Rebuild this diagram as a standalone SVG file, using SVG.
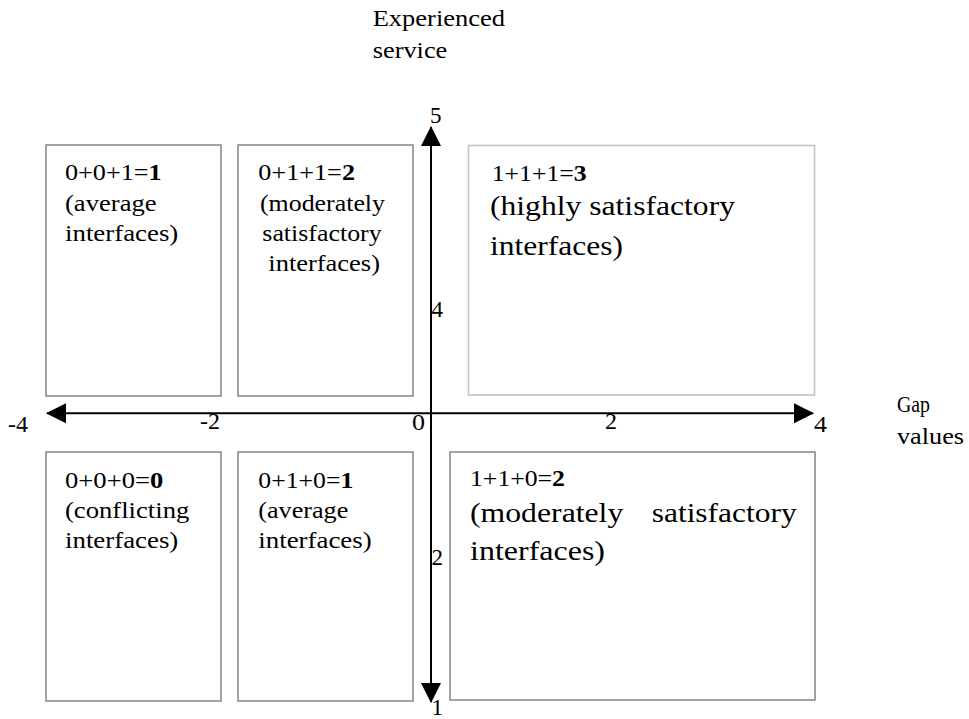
<svg xmlns="http://www.w3.org/2000/svg" width="969" height="719" viewBox="0 0 969 719">
<style>
text { font-family: 'Liberation Serif', 'Times New Roman', Times, 'DejaVu Serif', serif; fill: #000; }
.t { font-size: 23px; }
.big { font-size: 28px; }
.ax { font-size: 23px; }
.lbl { font-size: 24px; }
.box { fill: #fff; stroke: #8c8c8c; stroke-width: 1.6; }
.light { stroke: #c4c4c4; }
.axis { stroke: #000; stroke-width: 2; fill: none; }
.b { font-weight: bold; }
</style>
<defs>
<marker id="arr" markerUnits="userSpaceOnUse" markerWidth="20" markerHeight="20" refX="19" refY="10" orient="auto-start-reverse" viewBox="0 0 20 20">
<path d="M0,0 L20,10 L0,20 z" fill="#000"/>
</marker>
</defs>
<rect width="969" height="719" fill="#fff"/>

<g font-family="Liberation Serif, Times New Roman, serif">
<g id="box-001">
<rect class="box" x="46" y="145" width="175" height="251"/>
<text class="t" x="65" y="180" textLength="96.7" lengthAdjust="spacingAndGlyphs">0+0+1=<tspan class="b">1</tspan></text>
<text class="t" x="65" y="210.5" textLength="91.7" lengthAdjust="spacingAndGlyphs">(average</text>
<text class="t" x="65" y="240.5" textLength="113.3" lengthAdjust="spacingAndGlyphs">interfaces)</text>
</g>

<g id="box-011">
<rect class="box" x="238" y="145" width="175" height="251"/>
<text class="t" x="258.3" y="180" textLength="96.7" lengthAdjust="spacingAndGlyphs">0+1+1=<tspan class="b">2</tspan></text>
<text class="t" x="260" y="210.5" textLength="125" lengthAdjust="spacingAndGlyphs">(moderately</text>
<text class="t" x="262.3" y="240.5" textLength="119.4" lengthAdjust="spacingAndGlyphs">satisfactory</text>
<text class="t" x="268.3" y="271" textLength="111.7" lengthAdjust="spacingAndGlyphs">interfaces)</text>
</g>

<g id="box-111">
<rect class="box light" x="468.5" y="145.5" width="346" height="249.5"/>
<text class="t" x="491.7" y="181" textLength="95" lengthAdjust="spacingAndGlyphs">1+1+1=<tspan class="b">3</tspan></text>
<text class="big" x="490" y="215" textLength="245" lengthAdjust="spacingAndGlyphs">(highly satisfactory</text>
<text class="big" x="490" y="255" textLength="133" lengthAdjust="spacingAndGlyphs">interfaces)</text>
</g>

<g id="box-000">
<rect class="box" x="46" y="452" width="175" height="249"/>
<text class="t" x="65" y="488.3" textLength="98.3" lengthAdjust="spacingAndGlyphs">0+0+0=<tspan class="b">0</tspan></text>
<text class="t" x="65" y="518.3" textLength="124.3" lengthAdjust="spacingAndGlyphs">(conflicting</text>
<text class="t" x="65" y="548.3" textLength="113.3" lengthAdjust="spacingAndGlyphs">interfaces)</text>
</g>

<g id="box-010">
<rect class="box" x="238" y="452" width="175" height="249"/>
<text class="t" x="258.3" y="488.3" textLength="95" lengthAdjust="spacingAndGlyphs">0+1+0=<tspan class="b">1</tspan></text>
<text class="t" x="258.3" y="518.3" textLength="90" lengthAdjust="spacingAndGlyphs">(average</text>
<text class="t" x="258.3" y="548.3" textLength="113.4" lengthAdjust="spacingAndGlyphs">interfaces)</text>
</g>

<g id="box-110">
<rect class="box" x="450" y="452" width="365" height="248"/>
<text class="t" x="470" y="485.7" textLength="95" lengthAdjust="spacingAndGlyphs">1+1+0=<tspan class="b">2</tspan></text>
<text class="big" x="470" y="521.7" textLength="153.3" lengthAdjust="spacingAndGlyphs">(moderately</text>
<text class="big" x="651.7" y="521.7" textLength="145" lengthAdjust="spacingAndGlyphs">satisfactory</text>
<text class="big" x="470" y="560" textLength="135" lengthAdjust="spacingAndGlyphs">interfaces)</text>
</g>

<g id="connectors">
<line class="axis" x1="47" y1="413.3" x2="813" y2="413.3" marker-start="url(#arr)" marker-end="url(#arr)"/>
<line class="axis" x1="431" y1="127" x2="431" y2="702" marker-start="url(#arr)" marker-end="url(#arr)"/>
</g>

<g id="axis-labels">
<text class="lbl" x="372.7" y="26" textLength="132.3" lengthAdjust="spacingAndGlyphs">Experienced</text>
<text class="lbl" x="372.7" y="58" textLength="74.6" lengthAdjust="spacingAndGlyphs">service</text>
<text class="lbl" x="897" y="412" textLength="33" lengthAdjust="spacingAndGlyphs">Gap</text>
<text class="lbl" x="897" y="443.5" textLength="67" lengthAdjust="spacingAndGlyphs">values</text>
<text class="ax" x="8" y="432" textLength="20" lengthAdjust="spacingAndGlyphs">-4</text>
<text class="ax" x="200" y="429" textLength="20" lengthAdjust="spacingAndGlyphs">-2</text>
<text class="ax" x="412" y="430" textLength="13" lengthAdjust="spacingAndGlyphs">0</text>
<text class="ax" x="605" y="429" textLength="12" lengthAdjust="spacingAndGlyphs">2</text>
<text class="ax" x="814" y="432" textLength="13" lengthAdjust="spacingAndGlyphs">4</text>
<text class="ax" x="430" y="123">5</text>
<text class="ax" x="431.5" y="317">4</text>
<text class="ax" x="431.5" y="565">2</text>
<text class="ax" x="431.5" y="715">1</text>
</g>
</g>
</svg>
